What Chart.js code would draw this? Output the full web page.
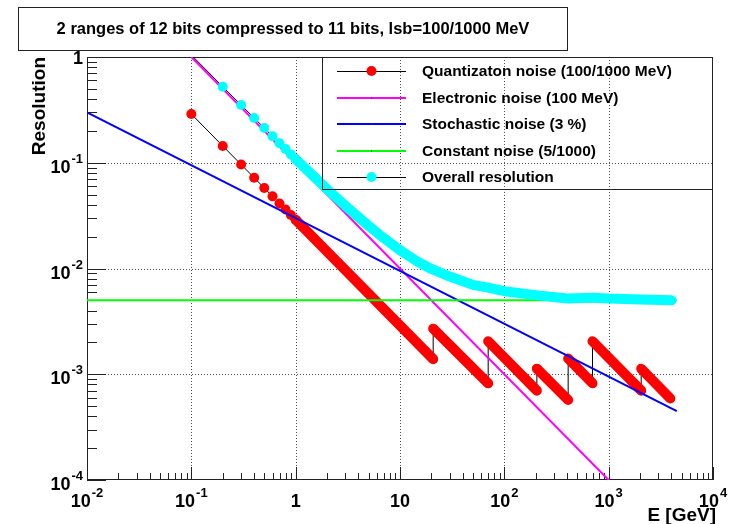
<!DOCTYPE html>
<html>
<head>
<meta charset="utf-8">
<title>Resolution vs energy</title>
<script src="https://cdn.jsdelivr.net/npm/chart.js"></script>
<style>
    html, body { margin: 0; padding: 0; background: #fff; }
    #chart { display: block; }
</style>
</head>
<body>
<canvas id="chart" width="730" height="524"></canvas>
<script>
// Chart texts
const chartTitle = '2 ranges of 12 bits compressed to 11 bits, lsb=100/1000 MeV';
const xTitle = 'E [GeV]';
const yTitle = 'Resolution';

// Axis decades and their labels ("^" marks the exponent)
const xTickValues = [0.01, 0.1, 1, 10, 100, 1000, 10000];
const xTickLabels = ['10^-2', '10^-1', '1', '10', '10^2', '10^3', '10^4'];
const yTickValues = [0.0001, 0.001, 0.01, 0.1, 1];
const yTickLabels = ['10^-4', '10^-3', '10^-2', '10^-1', '1'];

// Quantization noise: single markers at low energy...
const quantMarkE = [0.1, 0.2, 0.3, 0.4, 0.5, 0.6, 0.7, 0.8, 0.9, 1.0];
const quantMarkRes = [0.289, 0.144, 0.0962, 0.0722, 0.0577, 0.0481, 0.0412, 0.0361, 0.0321, 0.0289];
// ...then dense markers, one run per compression step [start, end]
const quantStepE = [[1.0, 20.8], [20.8, 70], [70, 205], [205, 409], [409, 700], [700, 2050], [2050, 3900]];
const quantStepRes = [[0.0289, 0.00139], [0.0027, 0.00082], [0.00205, 0.0007], [0.00113, 0.00057],
                      [0.00141, 0.00082], [0.00205, 0.0007], [0.00113, 0.00059]];

// Electronic, stochastic and constant noise (straight lines in log-log)
const elecE = [0.1, 4500];
const elecRes = [1.0, 0.0000222];
const stochE = [0.01, 4500];
const stochRes = [0.3, 0.000447];
const constE = [0.01, 4500];
const constRes = [0.005, 0.005];

// Overall resolution: single markers, then the dense part
const overallMarkE = [0.1, 0.2, 0.3, 0.4, 0.5, 0.6, 0.7, 0.8, 0.9, 1.0];
const overallMarkRes = [1.045, 0.524, 0.351, 0.265, 0.213, 0.178, 0.153, 0.135, 0.12, 0.108];
const overallDenseE = [1.0, 1.5, 2, 3, 5, 7, 10, 15, 20, 30, 50, 70, 100, 200, 400, 700, 1000, 2000, 4000];
const overallDenseRes = [0.108, 0.0738, 0.0564, 0.0391, 0.0253, 0.0194, 0.0149, 0.0115, 0.0099, 0.0084,
                         0.007, 0.0066, 0.0061, 0.0056, 0.0052, 0.0053, 0.0052, 0.0051, 0.005];

const FONT = '"Liberation Sans", Arial, Helvetica, sans-serif';
const MARK = 5;
const BAND = 10;

const pts = (xs, ys) => xs.map((x, i) => ({ x: x, y: ys[i] }));

// black connecting line of the quantization graph (includes the step jumps)
const quantLine = pts(quantMarkE, quantMarkRes);
quantStepE.forEach((s, i) => quantLine.push(...pts(s, quantStepRes[i])));

// dense red markers drawn as a thick band, broken between steps
const quantBand = [];
quantStepE.forEach((s, i) => {
    if (i > 0) quantBand.push({ x: s[0], y: null });
    quantBand.push(...pts(s, quantStepRes[i]));
});

const overallLine = pts(overallMarkE, overallMarkRes).concat(pts(overallDenseE, overallDenseRes));
const overallBand = pts(overallDenseE, overallDenseRes);

// Legend rows (ROOT style)
const legendRows = [
    { label: 'Quantizaton noise (100/1000 MeV)', line: '#000', width: 1, marker: '#ff0000' },
    { label: 'Electronic noise (100 MeV)', line: '#ff00ff', width: 2 },
    { label: 'Stochastic noise (3 %)', line: '#0000ff', width: 2 },
    { label: 'Constant noise (5/1000)', line: '#00ff00', width: 2 },
    { label: 'Overall resolution', line: '#000', width: 1, marker: '#00ffff' }
];

// log ticks: 1..9 in every decade
function decadeTicks(scale) {
    const ticks = [];
    const lo = Math.round(Math.log10(scale.min));
    const hi = Math.round(Math.log10(scale.max));
    for (let d = lo; d <= hi; d++) {
        for (let m = 1; m <= 9; m++) {
            const v = m * Math.pow(10, d);
            if (v > scale.max * 1.0001) break;
            ticks.push({ value: v, major: m === 1 });
        }
    }
    scale.ticks = ticks;
}

// "10^-2" -> 10 with a small raised exponent
function powerLabel(ctx, txt, x, y, mode) {
    const parts = txt.split('^');
    const base = parts[0];
    const sup = parts[1];
    ctx.font = 'bold 18px ' + FONT;
    const wb = ctx.measureText(base).width;
    let ws = 0;
    if (sup) {
        ctx.font = 'bold 13px ' + FONT;
        ws = ctx.measureText(sup).width + 1;
    }
    const left = mode === 'x' ? x - (wb + ws) / 2 : x - (wb + ws);
    const baseY = mode === 'x' ? y : (sup ? y + 10 : y + 6.5);
    ctx.textAlign = 'left';
    ctx.textBaseline = 'alphabetic';
    ctx.font = 'bold 18px ' + FONT;
    ctx.fillText(base, left, baseY);
    if (sup) {
        ctx.font = 'bold 13px ' + FONT;
        ctx.fillText(sup, left + wb + 1, baseY - 10);
    }
}

const crisp = v => Math.round(v) + 0.5;

// Frame, grid, ticks, labels, legend and title the way ROOT draws them
const rootStyle = {
    id: 'rootStyle',
    beforeDraw(chart) {
        const ctx = chart.ctx;
        ctx.save();
        ctx.fillStyle = '#fff';
        ctx.fillRect(0, 0, chart.width, chart.height);
        ctx.restore();
    },
    beforeDatasetsDraw(chart) {
        const ctx = chart.ctx;
        const a = chart.chartArea;
        const xs = chart.scales.x;
        const ys = chart.scales.y;
        ctx.save();

        // dotted grid on the decades
        ctx.strokeStyle = '#555';
        ctx.lineWidth = 1;
        ctx.setLineDash([1, 2]);
        xTickValues.forEach(v => {
            const px = crisp(xs.getPixelForValue(v));
            if (px <= a.left + 1 || px >= a.right - 1) return;
            ctx.beginPath();
            ctx.moveTo(px, a.top);
            ctx.lineTo(px, a.bottom);
            ctx.stroke();
        });
        yTickValues.forEach(v => {
            const py = crisp(ys.getPixelForValue(v));
            if (py <= a.top + 1 || py >= a.bottom - 1) return;
            ctx.beginPath();
            ctx.moveTo(a.left, py);
            ctx.lineTo(a.right, py);
            ctx.stroke();
        });
        ctx.setLineDash([]);

        // frame
        ctx.strokeStyle = '#222';
        ctx.strokeRect(crisp(a.left), crisp(a.top), Math.round(a.right - a.left) - 1, Math.round(a.bottom - a.top) - 1);

        // inward ticks
        ctx.beginPath();
        xs.ticks.forEach(t => {
            const px = crisp(xs.getPixelForValue(t.value));
            ctx.moveTo(px, a.bottom);
            ctx.lineTo(px, a.bottom - (t.major ? 13 : 7));
        });
        ys.ticks.forEach(t => {
            const py = crisp(ys.getPixelForValue(t.value));
            ctx.moveTo(a.left, py);
            ctx.lineTo(a.left + (t.major ? 19 : 10), py);
        });
        ctx.stroke();

        // tick labels
        ctx.fillStyle = '#000';
        xTickValues.forEach((v, i) => powerLabel(ctx, xTickLabels[i], xs.getPixelForValue(v), 507, 'x'));
        yTickValues.forEach((v, i) => powerLabel(ctx, yTickLabels[i], a.left - 4, ys.getPixelForValue(v), 'y'));

        // axis titles
        ctx.font = 'bold 19px ' + FONT;
        ctx.textAlign = 'right';
        ctx.textBaseline = 'alphabetic';
        ctx.fillText(xTitle, a.right + 3, 521);
        ctx.translate(45, a.top);
        ctx.rotate(-Math.PI / 2);
        ctx.fillText(yTitle, 0, 0);
        ctx.restore();
    },
    afterDraw(chart) {
        const ctx = chart.ctx;
        const a = chart.chartArea;
        ctx.save();

        // legend box (transparent)
        const lx = 322;
        const ly = a.top;
        const lw = Math.round(a.right) - lx;
        const lh = 132;
        ctx.strokeStyle = '#222';
        ctx.lineWidth = 1;
        ctx.strokeRect(lx + 0.5, ly + 0.5, lw - 1, lh);
        const rowH = (lh - 26) / (legendRows.length - 1);
        legendRows.forEach((r, i) => {
            const y = ly + 14 + i * rowH;
            ctx.strokeStyle = r.line;
            ctx.lineWidth = r.width;
            ctx.beginPath();
            ctx.moveTo(lx + 15, Math.round(y) + (r.width === 1 ? 0.5 : 0));
            ctx.lineTo(lx + 84, Math.round(y) + (r.width === 1 ? 0.5 : 0));
            ctx.stroke();
            if (r.marker) {
                ctx.fillStyle = r.marker;
                ctx.beginPath();
                ctx.arc(lx + 49.5, y, MARK, 0, Math.PI * 2);
                ctx.fill();
            } else {
                ctx.fillStyle = '#333';
                ctx.fillRect(lx + 49, Math.round(y) - 0.5, 1, 1);
            }
            ctx.fillStyle = '#000';
            ctx.font = 'bold 15.5px ' + FONT;
            ctx.textAlign = 'left';
            ctx.textBaseline = 'middle';
            ctx.fillText(r.label, lx + 100, y + 1);
        });

        // title box
        ctx.fillStyle = '#fff';
        ctx.fillRect(18, 7, 549, 43);
        ctx.strokeStyle = '#222';
        ctx.strokeRect(18.5, 7.5, 549, 43);
        ctx.fillStyle = '#000';
        ctx.font = 'bold 16.5px ' + FONT;
        ctx.textAlign = 'center';
        ctx.textBaseline = 'middle';
        ctx.fillText(chartTitle, 293, 29.5);
        ctx.restore();
    }
};

new Chart(document.getElementById('chart'), {
    type: 'line',
    data: {
        datasets: [
            {
                label: 'Overall resolution (dense)',
                data: overallBand,
                borderColor: '#00ffff',
                borderWidth: BAND,
                borderCapStyle: 'round',
                borderJoinStyle: 'round',
                pointRadius: 0,
                order: 1
            },
            {
                label: 'Overall resolution',
                data: overallLine,
                borderColor: '#000',
                borderWidth: 1,
                pointBackgroundColor: '#00ffff',
                pointBorderWidth: 0,
                pointRadius: ctx => (ctx.dataIndex > 0 && ctx.dataIndex < overallMarkE.length) ? MARK : 0,
                order: 2
            },
            {
                label: 'Constant noise (5/1000)',
                data: pts(constE, constRes),
                borderColor: '#00ff00',
                borderWidth: 2,
                pointRadius: 0,
                order: 3
            },
            {
                label: 'Stochastic noise (3 %)',
                data: pts(stochE, stochRes),
                borderColor: '#0000ff',
                borderWidth: 2,
                pointRadius: 0,
                order: 4
            },
            {
                label: 'Electronic noise (100 MeV)',
                data: pts(elecE, elecRes),
                borderColor: '#ff00ff',
                borderWidth: 2,
                pointRadius: 0,
                order: 5
            },
            {
                label: 'Quantizaton noise (dense)',
                data: quantBand,
                borderColor: '#ff0000',
                borderWidth: BAND,
                borderCapStyle: 'round',
                borderJoinStyle: 'round',
                pointRadius: 0,
                spanGaps: false,
                order: 6
            },
            {
                label: 'Quantizaton noise (100/1000 MeV)',
                data: quantLine,
                borderColor: '#000',
                borderWidth: 1,
                pointBackgroundColor: '#ff0000',
                pointBorderWidth: 0,
                pointRadius: ctx => ctx.dataIndex < quantMarkE.length ? MARK : 0,
                order: 7
            }
        ]
    },
    options: {
        responsive: false,
        animation: false,
        devicePixelRatio: 1,
        events: [],
        layout: { padding: { top: 57, right: 17, bottom: 0, left: 0 } },
        elements: { line: { tension: 0 } },
        datasets: { line: { clip: 0 } },
        plugins: {
            legend: { display: false },
            tooltip: { enabled: false },
            title: { display: false }
        },
        scales: {
            x: {
                type: 'logarithmic',
                min: 0.01,
                max: 10000,
                grid: { display: false },
                border: { display: false },
                ticks: { display: false },
                afterBuildTicks: decadeTicks,
                afterFit: s => { s.height = 44; }
            },
            y: {
                type: 'logarithmic',
                min: 0.0001,
                max: 1,
                grid: { display: false },
                border: { display: false },
                ticks: { display: false },
                afterBuildTicks: decadeTicks,
                afterFit: s => { s.width = 87; }
            }
        }
    },
    plugins: [rootStyle]
});
</script>
</body>
</html>
